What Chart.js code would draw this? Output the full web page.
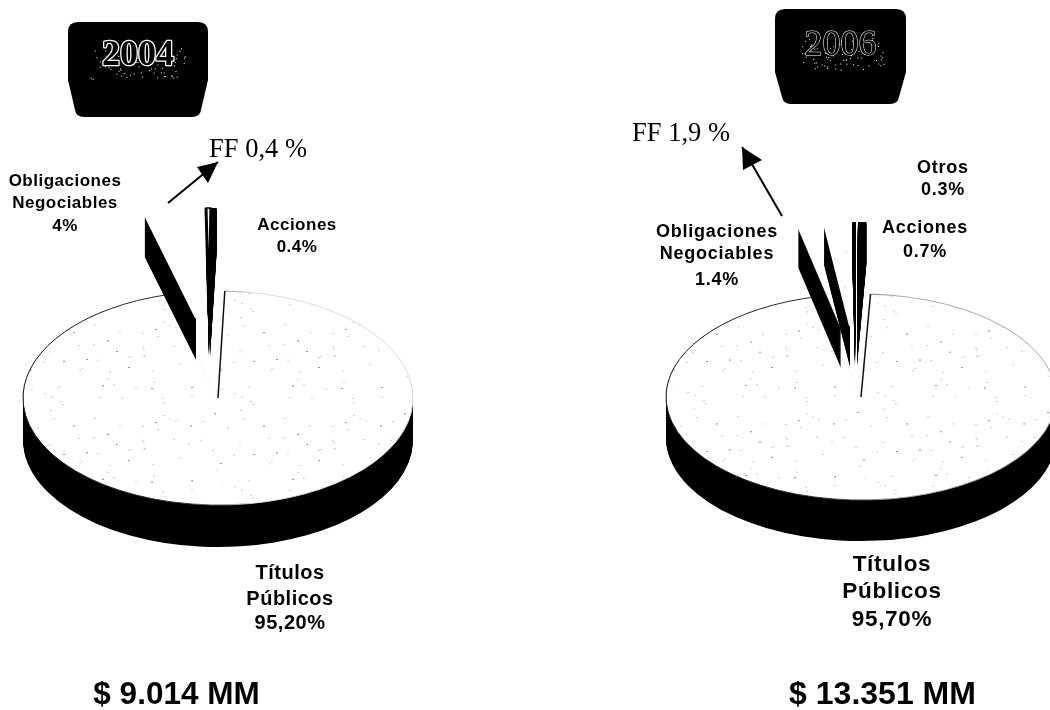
<!DOCTYPE html>
<html>
<head>
<meta charset="utf-8">
<script src="https://cdn.jsdelivr.net/npm/chart.js@4"></script>
<style>
	html, body { margin: 0; background: #fff; overflow: hidden; }
	canvas { position: absolute; top: 0; }
	#pie2004 { left: 0; }
	#pie2006 { left: 525px; }
</style>
</head>
<body>
<canvas id="pie2004" width="525" height="710"></canvas>
<canvas id="pie2006" width="525" height="710"></canvas>
<script>
const sectors2004 = ["Títulos Públicos", "Obligaciones Negociables", "FF", "Acciones"];
const values2004 = [95.2, 4, 0.4, 0.4];
const total2004 = "$ 9.014 MM";

const sectors2006 = ["Títulos Públicos", "Obligaciones Negociables", "FF", "Otros", "Acciones"];
const values2006 = [95.7, 1.4, 1.9, 0.3, 0.7];
const total2006 = "$ 13.351 MM";

// how far each slice is pulled out of the pie, in page pixels
const shifts2004 = [[0, 0], [-22, -80], [-9, -83], [-8, -83]];
const shifts2006 = [[0, 0], [-20, -70], [-11, -71], [-6, -72], [-4, -72]];

const small2004 = "bold 17px 'Liberation Sans'";
const small2006 = "bold 18px 'Liberation Sans'";
const serif = "26.5px 'Liberation Serif'";
const mid2004 = "bold 20px 'Liberation Sans'";
const mid2006 = "bold 22.5px 'Liberation Sans'";

// [text, x, y, font, letter spacing], x and y relative to the canvas
const notes2004 = [
	["Obligaciones", 65, 181, small2004, "0.5px"], ["Negociables", 65, 203, small2004, "0.5px"], ["4%", 65, 226, small2004, "0.5px"],
	["Acciones", 297, 225, small2004, "0.5px"], ["0.4%", 297, 247, small2004, "0.5px"],
	["FF 0,4 %", 258, 150, serif, "0px"],
	["Títulos", 290, 573, mid2004, "0.5px"],
	["Públicos", 290, 599, mid2004, "0.5px"],
	["95,20%", 290, 623, mid2004, "0.5px"],
	[total2004, 176.5, 695, "bold 31.5px 'Liberation Sans'", "0px"]
];
const notes2006 = [
	["Obligaciones", 192, 232, small2006, "0.75px"], ["Negociables", 192, 254, small2006, "0.75px"], ["1.4%", 192, 280, small2006, "0.75px"],
	["Otros", 418, 168, small2006, "0.75px"], ["0.3%", 418, 190, small2006, "0.75px"],
	["Acciones", 400, 228, small2006, "0.75px"], ["0.7%", 400, 252, small2006, "0.75px"],
	["FF 1,9 %", 156, 134, serif, "0px"],
	["Títulos", 367, 565, mid2006, "0.7px"],
	["Públicos", 367, 592, mid2006, "0.7px"],
	["95,70%", 367, 620, mid2006, "0.7px"],
	[total2006, 357.5, 695, "bold 32px 'Liberation Sans'", "0px"]
];

// sparse dots for the slice tops, same tile every load
function stipple() {
	const tile = document.createElement("canvas");
	tile.width = 190;
	tile.height = 170;
	const c = tile.getContext("2d");
	c.fillStyle = "#fff";
	c.fillRect(0, 0, 190, 170);
	let s = 17;
	const next = () => (s = (s * 1103515245 + 12345) % 2147483648) / 2147483648;
	for (let i = 0; i < 60; i++) {
		c.fillStyle = next() > 0.75 ? "#333" : "#aaa";
		c.fillRect(Math.floor(next() * 190), Math.floor(next() * 170), 1, 2);
	}
	return c.createPattern(tile, "repeat");
}

function drawNotes(ctx, notes) {
	ctx.fillStyle = "#000";
	ctx.textAlign = "center";
	ctx.textBaseline = "middle";
	for (const [text, x, y, font, spacing] of notes) {
		ctx.font = font;
		ctx.letterSpacing = spacing;
		ctx.fillText(text, x, y);
	}
	ctx.letterSpacing = "0px";
}

function drawArrow(ctx, [x0, y0], [x1, y1], [ax, ay], [bx, by]) {
	ctx.strokeStyle = "#000";
	ctx.fillStyle = "#000";
	ctx.lineWidth = 2;
	ctx.beginPath();
	ctx.moveTo(x0, y0);
	ctx.lineTo(x1, y1);
	ctx.stroke();
	ctx.beginPath();
	ctx.moveTo(x1, y1);
	ctx.lineTo(ax, ay);
	ctx.lineTo(bx, by);
	ctx.closePath();
	ctx.fill();
}

function drawBadge(ctx, b) {
	ctx.fillStyle = "#000";
	ctx.beginPath();
	ctx.moveTo(b.left + 10, b.top);
	ctx.lineTo(b.right - 10, b.top);
	ctx.quadraticCurveTo(b.right, b.top, b.right, b.top + 10);
	ctx.lineTo(b.right, b.waist);
	ctx.lineTo(b.right - 7, b.bottom - 7);
	ctx.quadraticCurveTo(b.right - 8, b.bottom, b.right - 16, b.bottom);
	ctx.lineTo(b.left + 16, b.bottom);
	ctx.quadraticCurveTo(b.left + 8, b.bottom, b.left + 7, b.bottom - 7);
	ctx.lineTo(b.left, b.waist);
	ctx.lineTo(b.left, b.top + 10);
	ctx.quadraticCurveTo(b.left, b.top, b.left + 10, b.top);
	ctx.closePath();
	ctx.fill();

	// white flecks under the year
	ctx.fillStyle = "#fff";
	let s = b.seed;
	const next = () => (s = (s * 1103515245 + 12345) % 2147483648) / 2147483648;
	for (let i = 0; i < 70; i++) {
		ctx.fillRect(b.left + 22 + next() * (b.right - b.left - 44), b.textY + next() * 32 - 8, 1, 1);
	}

	ctx.font = b.font;
	ctx.textAlign = "center";
	ctx.textBaseline = "middle";
	ctx.lineJoin = "round";
	ctx.strokeStyle = "#fff";
	ctx.lineWidth = b.outline;
	ctx.strokeText(b.text, (b.left + b.right) / 2, b.textY);
	ctx.fillStyle = "#000";
	ctx.fillText(b.text, (b.left + b.right) / 2, b.textY);
}

// Chart.js has no tilted pie, so the library's arcs get drawn under a squashed
// transform, with a stack of black copies below each one for the thickness.
const tiltedPie = {
	id: "tiltedPie",
	beforeDatasetsDraw(chart, args, opts) {
		const ctx = chart.ctx;
		const arcs = chart.getDatasetMeta(0).data;
		ctx.save();
		ctx.translate(opts.cx, opts.cy);
		ctx.scale(1, opts.tilt);
		ctx.translate(-arcs[0].x, -arcs[0].y);
		arcs.forEach((arc, i) => {
			const [dx, dy] = opts.shifts[i];
			const face = arc.options;
			arc.options = { ...face, backgroundColor: "#000", borderWidth: 0 };
			for (let d = opts.depth; d > 0; d--) {
				ctx.save();
				ctx.translate(dx, (dy + d) / opts.tilt);
				arc.draw(ctx);
				ctx.restore();
			}
			arc.options = face;
			ctx.save();
			ctx.translate(dx, dy / opts.tilt);
			arc.draw(ctx);
			ctx.restore();
			if (i === 0) outlineMain(ctx, arc, opts);
		});
		ctx.restore();
		return false;
	},
	afterDraw(chart, args, opts) {
		const ctx = chart.ctx;
		drawBadge(ctx, opts.badge);
		drawNotes(ctx, opts.notes);
		drawArrow(ctx, ...opts.arrow);
	}
};

// path is built under the tilt, stroked without it so the line keeps an even width
function outlineMain(ctx, arc, opts) {
	ctx.beginPath();
	ctx.arc(arc.x, arc.y, arc.outerRadius, arc.startAngle, arc.endAngle);
	ctx.save();
	ctx.setTransform(1, 0, 0, 1, 0, 0);
	const fade = ctx.createLinearGradient(opts.cx - arc.outerRadius, 0, opts.cx + arc.outerRadius, 0);
	fade.addColorStop(0, "#111");
	fade.addColorStop(0.42, "#333");
	fade.addColorStop(0.6, opts.rimFade);
	fade.addColorStop(1, opts.rimFade);
	ctx.strokeStyle = fade;
	ctx.lineWidth = 1;
	ctx.stroke();
	ctx.restore();

	ctx.beginPath();
	ctx.moveTo(arc.x, arc.y);
	ctx.lineTo(arc.x + Math.cos(arc.startAngle) * arc.outerRadius, arc.y + Math.sin(arc.startAngle) * arc.outerRadius);
	ctx.save();
	ctx.setTransform(1, 0, 0, 1, 0, 0);
	ctx.strokeStyle = "#111";
	ctx.lineWidth = 1.5;
	ctx.stroke();
	ctx.restore();
}

function pie(id, sectors, values, colors, edgeColors, edges, rotation, plugin) {
	return new Chart(document.getElementById(id), {
		type: "pie",
		data: {
			labels: sectors,
			datasets: [{
				data: values,
				backgroundColor: colors,
				borderColor: edgeColors,
				borderWidth: edges,
			}]
		},
		options: {
			responsive: false,
			animation: false,
			events: [],
			radius: 195,
			rotation: rotation,
			plugins: {
				legend: { display: false },
				tooltip: { enabled: false },
				tiltedPie: plugin,
			}
		},
		plugins: [tiltedPie]
	});
}

const dots = stipple();

pie("pie2004", sectors2004, values2004, [dots, "#fff", "#fff", "#000"], ["#fff", "#fff", "#000", "#000"], [0, 2, 3, 0], 2, {
	cx: 218, cy: 398, tilt: 107 / 195, depth: 42,
	shifts: shifts2004, notes: notes2004, rimFade: "#ddd",
	arrow: [[168, 203], [218, 162], [197, 167], [208, 183]],
	badge: { text: "2004", font: "bold 36px 'Liberation Serif'", outline: 2.5, left: 68, right: 208, top: 22, waist: 80, bottom: 117, textY: 56, seed: 5 },
});

pie("pie2006", sectors2006, values2006, [dots, "#fff", dots, "#000", "#000"], ["#fff", "#fff", "#fff", "#000", "#000"], [0, 2, 2, 0, 0], 2.8, {
	cx: 336, cy: 397, tilt: 103 / 195, depth: 41,
	shifts: shifts2006, notes: notes2006, rimFade: "#aaa",
	arrow: [[257, 216], [217, 147], [237, 160], [218, 170]],
	badge: { text: "2006", font: "36px 'Liberation Serif'", outline: 1, left: 250, right: 381, top: 9, waist: 72, bottom: 104, textY: 46, seed: 9 },
});
</script>
</body>
</html>
